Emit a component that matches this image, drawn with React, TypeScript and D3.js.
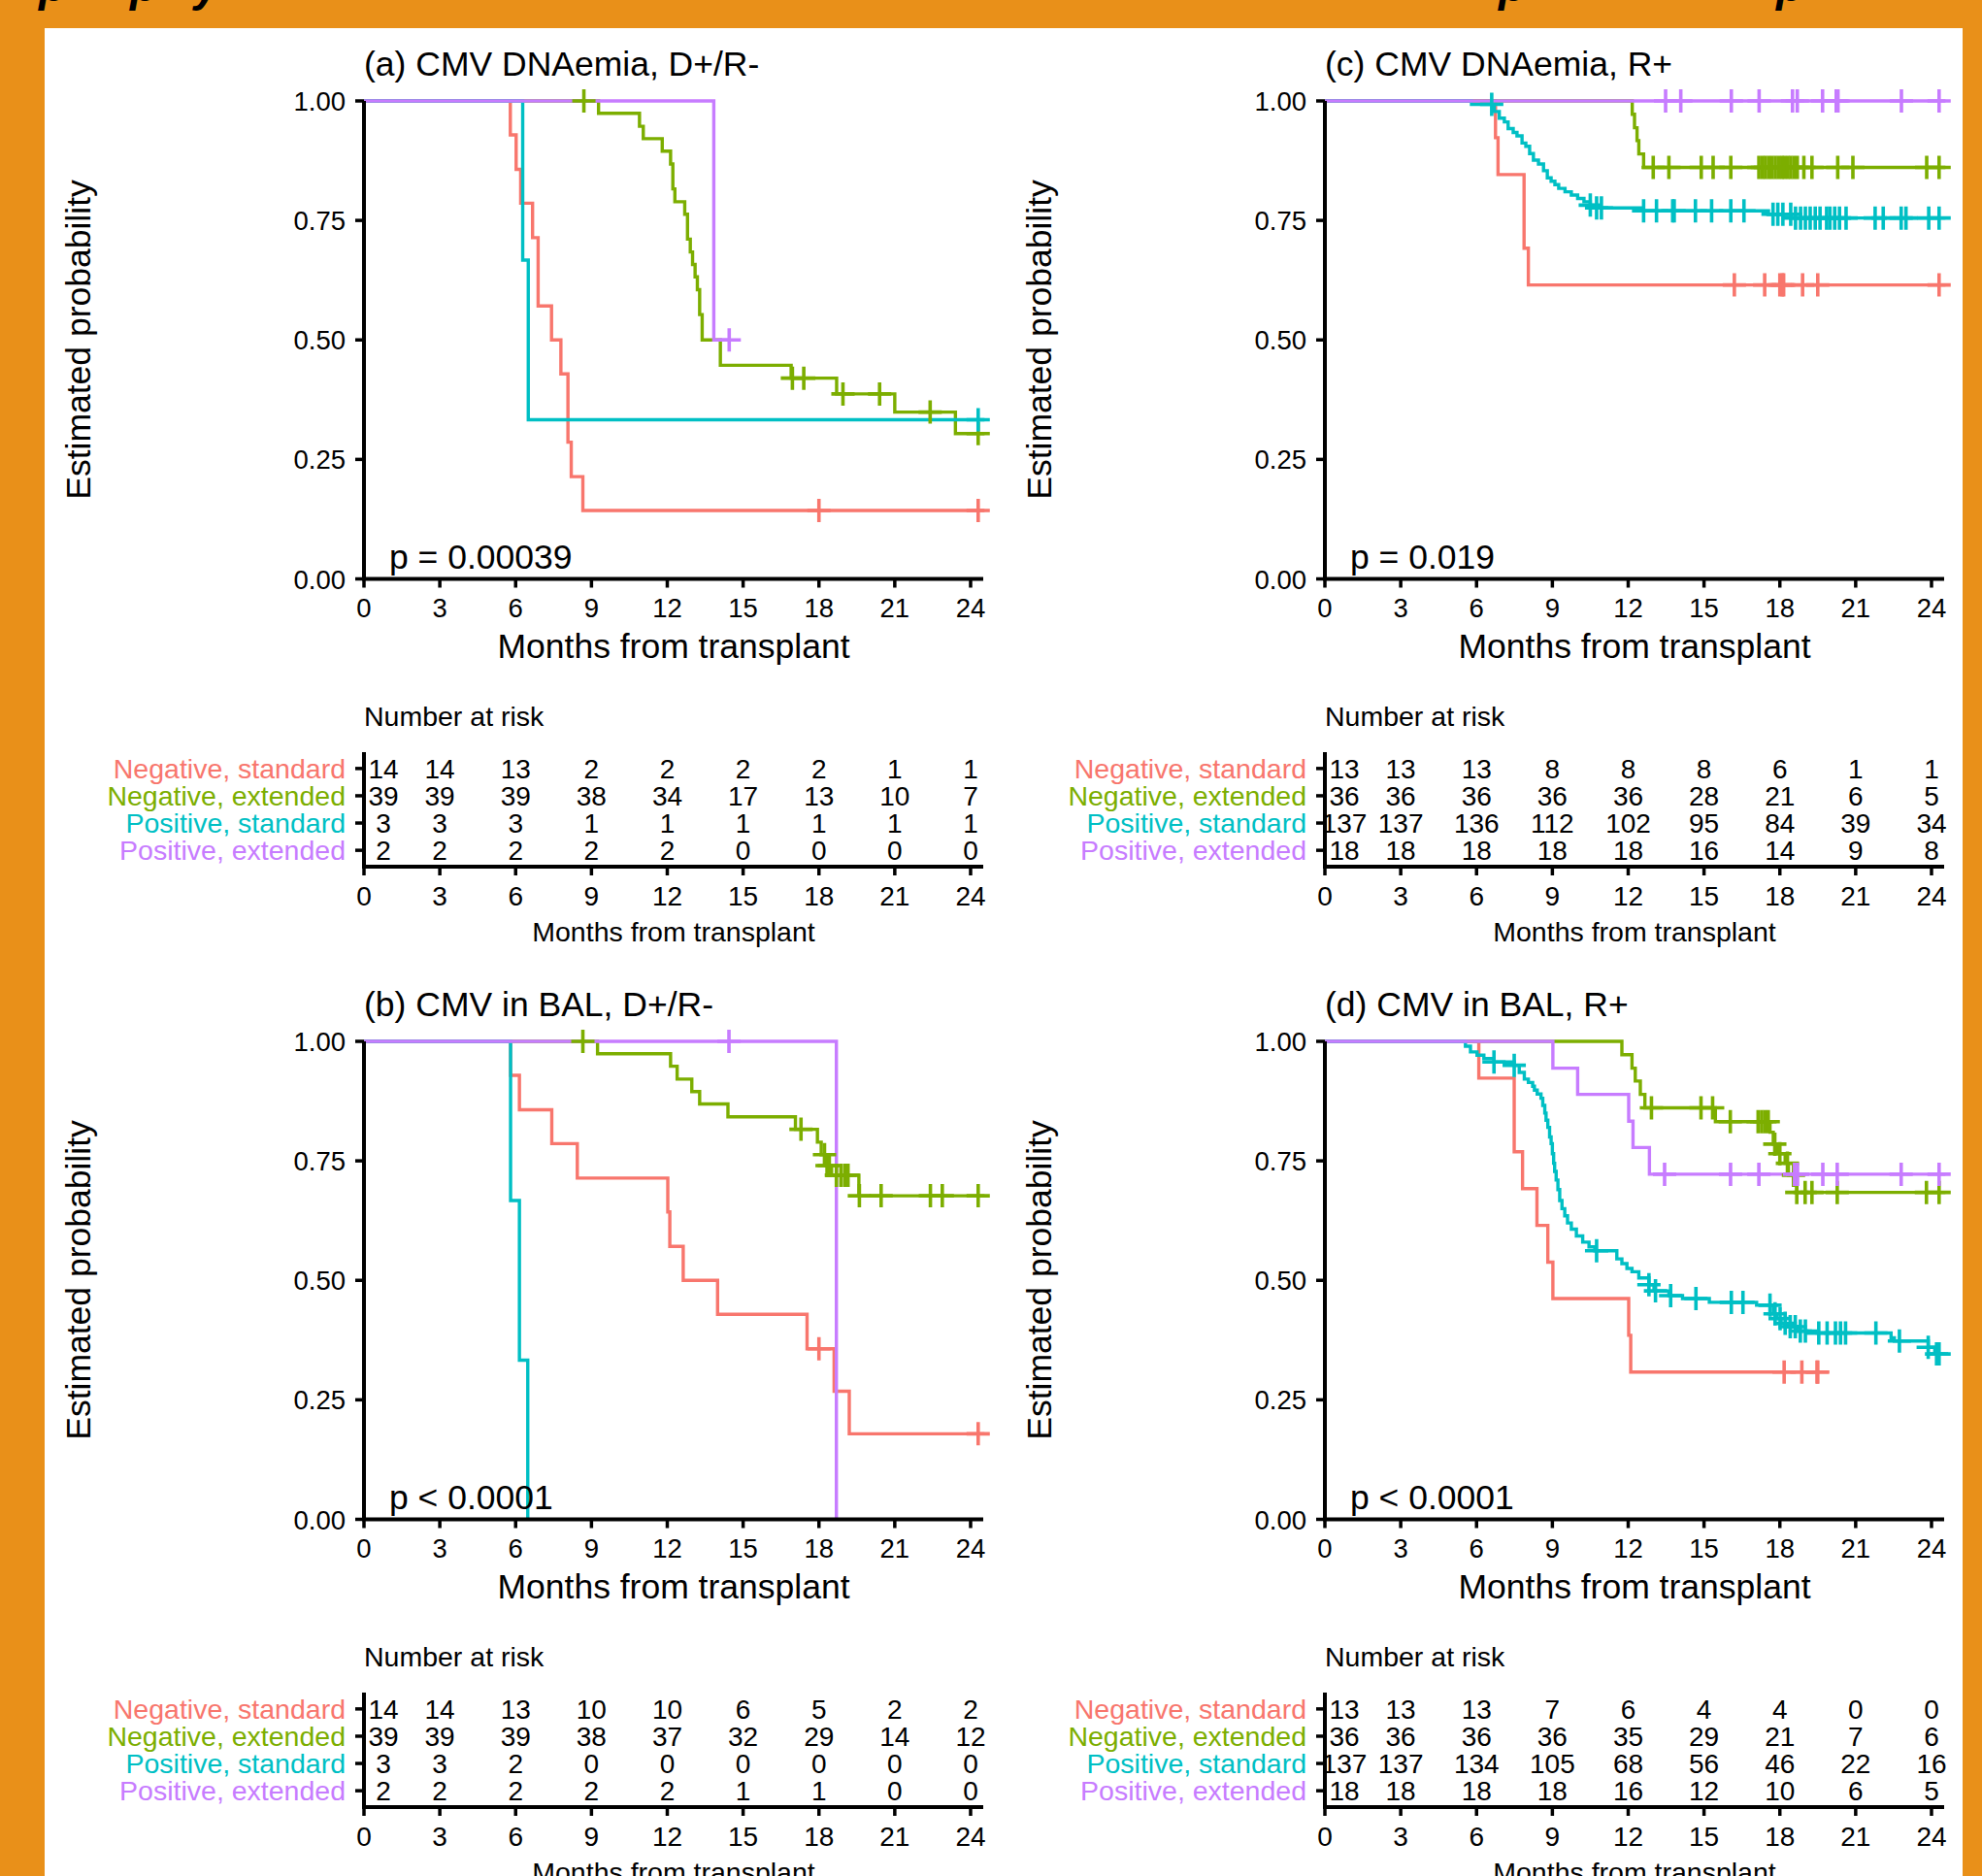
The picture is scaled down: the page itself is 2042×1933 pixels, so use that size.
import * as d3 from "d3";

// groups and colours (ggplot default hue palette)
const groups = ["Negative, standard", "Negative, extended", "Positive, standard", "Positive, extended"];
const groupColors = ["#F8766D", "#7CAE00", "#00BFC4", "#C77CFF"];
const timeTicks = [0, 3, 6, 9, 12, 15, 18, 21, 24];
const probTicks = [0, 0.25, 0.5, 0.75, 1];

// (a) CMV DNAemia, D+/R-
const aNegStdTimes = [5.79, 6.02, 6.2, 6.67, 6.89, 7.42, 7.79, 8.07, 8.2, 8.66];
const aNegStdSurv = [0.929, 0.857, 0.786, 0.714, 0.571, 0.5, 0.429, 0.286, 0.214, 0.143];
const aNegStdCens = [18.0, 24.3];
const aNegExtTimes = [9.28, 10.9, 11.05, 11.8, 12.13, 12.22, 12.3, 12.69, 12.8, 12.91, 13.0, 13.1, 13.19, 13.28, 13.38, 14.1, 16.9, 18.7, 21.0, 23.4];
const aNegExtSurv = [0.974, 0.947, 0.921, 0.895, 0.868, 0.816, 0.789, 0.763, 0.711, 0.684, 0.658, 0.632, 0.605, 0.553, 0.5, 0.447, 0.42, 0.387, 0.349, 0.304];
const aNegExtCens = [8.7, 16.95, 17.4, 18.95, 20.4, 22.4, 24.3];
const aPosStdTimes = [6.28, 6.5];
const aPosStdSurv = [0.667, 0.333];
const aPosStdCens = [24.3];
const aPosExtTimes = [13.84];
const aPosExtSurv = [0.5];
const aPosExtCens = [14.45];
const aEnds = [24.55, 24.55, 24.55, 14.45];
const aRisk = [
  [14, 14, 13, 2, 2, 2, 2, 1, 1],
  [39, 39, 39, 38, 34, 17, 13, 10, 7],
  [3, 3, 3, 1, 1, 1, 1, 1, 1],
  [2, 2, 2, 2, 2, 0, 0, 0, 0],
];

// (c) CMV DNAemia, R+
const cNegStdTimes = [6.75, 6.85, 7.88, 8.05];
const cNegStdSurv = [0.923, 0.846, 0.692, 0.615];
const cNegStdCens = [16.2, 17.4, 18.0, 18.1, 18.15, 18.9, 19.5, 24.3];
const cNegExtTimes = [12.16, 12.25, 12.35, 12.42, 12.61];
const cNegExtSurv = [0.972, 0.944, 0.917, 0.889, 0.861];
const cNegExtCens = [12.99, 13.61, 14.89, 15.36, 16.06, 17.17, 17.31, 17.43, 17.56, 17.69, 17.82, 17.95, 18.08, 18.18, 18.31, 18.43, 18.56, 18.69, 18.95, 19.27, 20.29, 20.89, 23.81, 24.3];
const cPosStdTimes = [5.8, 6.7, 6.9, 7.1, 7.25, 7.45, 7.6, 7.8, 7.95, 8.1, 8.25, 8.45, 8.65, 8.8, 8.95, 9.1, 9.25, 9.5, 9.75, 10.0, 10.25, 10.5, 10.75, 12.6, 17.55, 18.45];
const cPosStdSurv = [0.993, 0.978, 0.964, 0.956, 0.942, 0.934, 0.927, 0.912, 0.905, 0.89, 0.876, 0.868, 0.854, 0.839, 0.832, 0.825, 0.817, 0.81, 0.803, 0.796, 0.789, 0.782, 0.776, 0.77, 0.763, 0.755];
const cPosStdCens = [6.6, 10.5, 10.75, 10.94, 12.61, 13.12, 13.76, 13.82, 14.66, 15.3, 16.06, 16.58, 17.73, 17.92, 18.12, 18.43, 18.62, 18.82, 19.01, 19.2, 19.4, 19.59, 19.85, 19.98, 20.17, 20.36, 20.62, 21.77, 22.09, 22.8, 22.99, 23.89, 24.3];
const cPosExtTimes: number[] = [];
const cPosExtSurv: number[] = [];
const cPosExtCens = [13.48, 14.08, 16.08, 17.18, 18.5, 18.69, 19.69, 20.23, 20.3, 22.81, 24.3];
const cEnds = [24.55, 24.55, 24.55, 24.55];
const cRisk = [
  [13, 13, 13, 8, 8, 8, 6, 1, 1],
  [36, 36, 36, 36, 36, 28, 21, 6, 5],
  [137, 137, 136, 112, 102, 95, 84, 39, 34],
  [18, 18, 18, 18, 18, 16, 14, 9, 8],
];

// (b) CMV in BAL, D+/R-
const bNegStdTimes = [5.8, 6.15, 7.43, 8.44, 12.02, 12.1, 12.63, 13.99, 17.53, 18.6, 19.2];
const bNegStdSurv = [0.929, 0.857, 0.786, 0.714, 0.643, 0.571, 0.5, 0.429, 0.357, 0.268, 0.179];
const bNegStdCens = [18.0, 24.3];
const bNegExtTimes = [9.24, 12.13, 12.39, 12.97, 13.28, 14.4, 17.07, 17.94, 18.09, 18.28, 18.5, 19.58];
const bNegExtSurv = [0.974, 0.948, 0.921, 0.895, 0.869, 0.842, 0.816, 0.789, 0.763, 0.74, 0.72, 0.677];
const bNegExtCens = [8.66, 17.29, 18.22, 18.32, 18.41, 18.69, 18.87, 19.02, 19.15, 19.6, 20.46, 22.41, 22.88, 24.3];
const bPosStdTimes = [5.8, 6.15, 6.48];
const bPosStdSurv = [0.667, 0.333, 0.0];
const bPosStdCens: number[] = [];
const bPosExtTimes = [18.69];
const bPosExtSurv = [0.0];
const bPosExtCens = [14.44];
const bEnds = [24.55, 24.55, 6.48, 18.69];
const bRisk = [
  [14, 14, 13, 10, 10, 6, 5, 2, 2],
  [39, 39, 39, 38, 37, 32, 29, 14, 12],
  [3, 3, 2, 0, 0, 0, 0, 0, 0],
  [2, 2, 2, 2, 2, 1, 1, 0, 0],
];

// (d) CMV in BAL, R+
const dNegStdTimes = [6.09, 7.49, 7.82, 8.39, 8.82, 9.02, 12.02, 12.1];
const dNegStdSurv = [0.923, 0.769, 0.692, 0.615, 0.538, 0.462, 0.385, 0.308];
const dNegStdCens = [18.17, 18.87, 19.47, 19.5];
const dNegExtTimes = [11.75, 12.15, 12.28, 12.48, 12.66, 15.45, 17.61, 17.74, 17.87, 18.21, 18.34, 18.67];
const dNegExtSurv = [0.972, 0.944, 0.917, 0.889, 0.861, 0.832, 0.81, 0.785, 0.765, 0.745, 0.72, 0.684];
const dNegExtCens = [12.92, 14.88, 15.34, 16.04, 17.14, 17.28, 17.41, 17.54, 17.8, 18.0, 18.3, 18.54, 18.67, 19.0, 19.27, 20.27, 23.8, 24.3];
const dPosStdTimes = [5.56, 5.76, 6.02, 6.29, 6.69, 7.49, 7.69, 7.89, 8.05, 8.22, 8.29, 8.4, 8.55, 8.62, 8.7, 8.75, 8.82, 8.89, 8.95, 9.0, 9.05, 9.09, 9.15, 9.22, 9.29, 9.38, 9.49, 9.6, 9.75, 9.95, 10.2, 10.45, 10.68, 11.55, 11.75, 11.95, 12.15, 12.42, 12.82, 13.02, 13.61, 14.15, 15.21, 17.08, 17.74, 17.87, 18.05, 18.27, 18.67, 19.07, 22.4, 22.53, 23.87, 24.13];
const dPosStdSurv = [0.99, 0.978, 0.971, 0.964, 0.957, 0.95, 0.935, 0.921, 0.914, 0.906, 0.898, 0.89, 0.881, 0.866, 0.85, 0.835, 0.82, 0.8, 0.786, 0.765, 0.745, 0.728, 0.71, 0.69, 0.667, 0.65, 0.635, 0.62, 0.607, 0.593, 0.58, 0.57, 0.562, 0.545, 0.535, 0.525, 0.518, 0.505, 0.491, 0.478, 0.468, 0.462, 0.454, 0.448, 0.43, 0.42, 0.41, 0.403, 0.394, 0.39, 0.38, 0.373, 0.36, 0.346];
const dPosStdCens = [6.69, 7.49, 10.75, 12.82, 13.08, 13.68, 14.68, 16.08, 16.54, 17.61, 17.81, 18.01, 18.21, 18.41, 18.61, 18.81, 19.01, 19.54, 19.87, 20.2, 20.4, 20.6, 21.8, 22.73, 23.87, 24.2, 24.3];
const dPosExtTimes = [9.02, 10.0, 12.02, 12.19, 12.84];
const dPosExtSurv = [0.944, 0.889, 0.833, 0.778, 0.722];
const dPosExtCens = [13.44, 16.05, 17.17, 18.58, 18.7, 19.7, 20.27, 22.8, 24.3];
const dEnds = [19.5, 24.55, 24.55, 24.55];
const dRisk = [
  [13, 13, 13, 7, 6, 4, 4, 0, 0],
  [36, 36, 36, 36, 35, 29, 21, 7, 6],
  [137, 137, 134, 105, 68, 56, 46, 22, 16],
  [18, 18, 18, 18, 16, 12, 10, 6, 5],
];

const panels = [
  {
    title: "(a) CMV DNAemia, D+/R-", p: "p = 0.00039", col: 0, row: 0, ends: aEnds, risk: aRisk,
    times: [aNegStdTimes, aNegExtTimes, aPosStdTimes, aPosExtTimes],
    surv: [aNegStdSurv, aNegExtSurv, aPosStdSurv, aPosExtSurv],
    cens: [aNegStdCens, aNegExtCens, aPosStdCens, aPosExtCens],
  },
  {
    title: "(c) CMV DNAemia, R+", p: "p = 0.019", col: 1, row: 0, ends: cEnds, risk: cRisk,
    times: [cNegStdTimes, cNegExtTimes, cPosStdTimes, cPosExtTimes],
    surv: [cNegStdSurv, cNegExtSurv, cPosStdSurv, cPosExtSurv],
    cens: [cNegStdCens, cNegExtCens, cPosStdCens, cPosExtCens],
  },
  {
    title: "(b) CMV in BAL, D+/R-", p: "p < 0.0001", col: 0, row: 1, ends: bEnds, risk: bRisk,
    times: [bNegStdTimes, bNegExtTimes, bPosStdTimes, bPosExtTimes],
    surv: [bNegStdSurv, bNegExtSurv, bPosStdSurv, bPosExtSurv],
    cens: [bNegStdCens, bNegExtCens, bPosStdCens, bPosExtCens],
  },
  {
    title: "(d) CMV in BAL, R+", p: "p < 0.0001", col: 1, row: 1, ends: dEnds, risk: dRisk,
    times: [dNegStdTimes, dNegExtTimes, dPosStdTimes, dPosExtTimes],
    surv: [dNegStdSurv, dNegExtSurv, dPosStdSurv, dPosExtSurv],
    cens: [dNegStdCens, dNegExtCens, dPosStdCens, dPosExtCens],
  },
];

const font = "'Liberation Sans', Arial, Helvetica, sans-serif";

// value of a KM step function at time t
function stepValue(times: number[], surv: number[], t: number) {
  let v = 1;
  times.forEach((tt, i) => {
    if (tt <= t) v = surv[i];
  });
  return v;
}

function Panel({ panel }: { panel: any }) {
  const dx = panel.col * 990;
  const dy = panel.row * 969;
  const x0 = 375 + dx;
  const x = d3.scaleLinear().domain([0, 24.5]).range([x0, x0 + 638]);
  const y = d3.scaleLinear().domain([0, 1]).range([dy + 596.5, dy + 104]);
  const rowY = d3.scalePoint().domain(groups).range([dy + 775, dy + 893]).padding(0.6);
  const tableY = dy + 893;

  const line = d3
    .line<[number, number]>()
    .x((d) => x(d[0]))
    .y((d) => y(d[1]))
    .curve(d3.curveStepAfter);

  const xMid = (x(0) + x(24.5)) / 2;

  return (
    <g>
      {/* title */}
      <text x={x0} y={dy + 78} fontSize={35.5}>{panel.title}</text>

      {/* curves */}
      {groups.map((g, i) => {
        const pts: [number, number][] = [[0, 1]];
        panel.times[i].forEach((t: number, k: number) => pts.push([t, panel.surv[i][k]]));
        const last = pts[pts.length - 1][1];
        pts.push([panel.ends[i], last]);
        return (
          <path key={g} d={line(pts) || ""} fill="none" stroke={groupColors[i]} strokeWidth={3.4} />
        );
      })}

      {/* censor marks */}
      {groups.map((g, i) =>
        panel.cens[i].map((c: number, k: number) => {
          const cx = x(c);
          const cy = y(stepValue(panel.times[i], panel.surv[i], c));
          return (
            <path
              key={g + k}
              d={`M${cx - 12},${cy}H${cx + 12}M${cx},${cy - 12}V${cy + 12}`}
              stroke={groupColors[i]}
              strokeWidth={3.6}
            />
          );
        })
      )}

      {/* axes */}
      <line x1={x0} x2={x0} y1={y(1)} y2={y(0)} stroke="black" strokeWidth={4} />
      <line x1={x0 - 2} x2={x(24.5)} y1={y(0)} y2={y(0)} stroke="black" strokeWidth={4} />
      {probTicks.map((t) => (
        <g key={t}>
          <line x1={x0 - 9} x2={x0} y1={y(t)} y2={y(t)} stroke="black" strokeWidth={3.5} />
          <text x={x0 - 19} y={y(t) + 10} fontSize={27.5} textAnchor="end">
            {d3.format(".2f")(t)}
          </text>
        </g>
      ))}
      {timeTicks.map((t) => (
        <g key={t}>
          <line x1={x(t)} x2={x(t)} y1={y(0)} y2={y(0) + 9} stroke="black" strokeWidth={3.5} />
          <text x={x(t)} y={dy + 636} fontSize={27.5} textAnchor="middle">{t}</text>
        </g>
      ))}
      <text x={xMid} y={dy + 678} fontSize={35.5} textAnchor="middle">Months from transplant</text>
      <text
        transform={`translate(${93 + dx},${dy + 350}) rotate(-90)`}
        fontSize={35.5}
        textAnchor="middle"
      >
        Estimated probability
      </text>
      <text x={x0 + 26} y={dy + 586} fontSize={35.5}>{panel.p}</text>

      {/* risk table */}
      <text x={x0} y={dy + 748} fontSize={28.5}>Number at risk</text>
      <line x1={x0} x2={x0} y1={dy + 775} y2={tableY} stroke="black" strokeWidth={4} />
      <line x1={x0 - 2} x2={x(24.5)} y1={tableY} y2={tableY} stroke="black" strokeWidth={4} />
      {groups.map((g, i) => (
        <g key={g}>
          <line x1={x0 - 9} x2={x0} y1={rowY(g)} y2={rowY(g)} stroke="black" strokeWidth={3.5} />
          <text x={x0 - 19} y={(rowY(g) || 0) + 10} fontSize={28.5} textAnchor="end" fill={groupColors[i]}>
            {g}
          </text>
          {panel.risk[i].map((n: number, k: number) => (
            <text
              key={k}
              x={k === 0 ? x0 + 20 : x(timeTicks[k])}
              y={(rowY(g) || 0) + 10}
              fontSize={28}
              textAnchor="middle"
            >
              {n}
            </text>
          ))}
        </g>
      ))}
      {timeTicks.map((t) => (
        <g key={"r" + t}>
          <line x1={x(t)} x2={x(t)} y1={tableY} y2={tableY + 9} stroke="black" strokeWidth={3.5} />
          <text x={x(t)} y={tableY + 40} fontSize={28} textAnchor="middle">{t}</text>
        </g>
      ))}
      <text x={xMid} y={dy + 970} fontSize={28.5} textAnchor="middle">Months from transplant</text>
    </g>
  );
}

// bits of the page heading cut off above the figure
const headingGlyphs = ["p", "p", "y", "p", "p"];
const headingX = [40, 134, 200, 1544, 1830];

export default function App() {
  const width = 2042;
  const height = 1933;
  return (
    <div style={{ position: "absolute", left: 0, top: 0 }}>
      <svg width={width} height={height} style={{ display: "block" }} fontFamily={font}>
        <rect x={0} y={0} width={width} height={height} fill="#E99019" />
        <rect x={46} y={29} width={1976} height={height - 29} fill="white" />
        {headingGlyphs.map((g, i) => (
          <text key={i} x={headingX[i]} y={1} fontSize={46} fontWeight="bold" fontStyle="italic">
            {g}
          </text>
        ))}
        {panels.map((p) => (
          <Panel key={p.title} panel={p} />
        ))}
      </svg>
    </div>
  );
}
